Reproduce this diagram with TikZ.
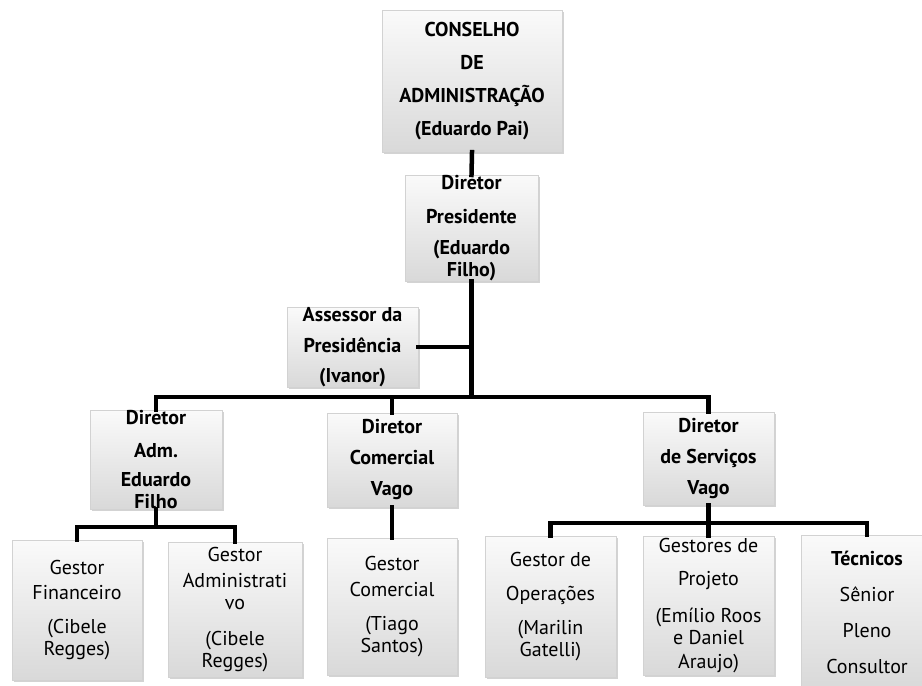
\documentclass[tikz,border=0pt]{standalone}
\usepackage{fontspec}
\setmainfont{PT Sans}
\usetikzlibrary{shadows}
\begin{document}
\begin{tikzpicture}[x=1pt, y=-1pt,
    box/.style={rectangle, draw=gray!35, top color=gray!4, bottom color=gray!30, align=center, inner sep=0pt,
        drop shadow={shadow xshift=2pt, shadow yshift=-2pt, opacity=0.35},
        font=\fontsize{20}{22}\selectfont},
    head/.style={box, font=\fontsize{20}{22}\selectfont\bfseries},
    link/.style={line width=4.5pt, black, line cap=rect}]
        \useasboundingbox (0,0) rectangle (922,686);
        \node[head, minimum width=180, minimum height=142] (cons) at (472,81) {CONSELHO\\[11pt]DE\\[11pt]ADMINISTRAÇÃO\\[11pt](Eduardo Pai)};
        \node[head, minimum width=133, minimum height=100] (pres) at (471.5,228) {Diretor\\[12pt]Presidente\\[9pt](Eduardo\\Filho)};
        \node[head, minimum width=131, minimum height=76] (ass) at (352.5,347) {Assessor da\\[9pt]Presidência\\[8pt](Ivanor)};
        \node[head, minimum width=132, minimum height=95] (adm) at (156,459.5) {Diretor\\[11pt]Adm.\\[7pt]Eduardo\\Filho};
        \node[head, minimum width=130, minimum height=94] (com) at (392,460) {Diretor\\[9pt]Comercial\\[9pt]Vago};
        \node[head, minimum width=131, minimum height=93] (serv) at (708.5,458.5) {Diretor\\[9pt]de Serviços\\[9pt]Vago};
        \node[box, minimum width=130, minimum height=140] (gfin) at (77,610) {Gestor\\[3pt]Financeiro\\[12pt](Cibele\\Regges)};
        \node[box, minimum width=134, minimum height=135] (gadm) at (235,609.5) {Gestor\\[4pt]Administrati\\vo\\[14pt](Cibele\\Regges)};
        \node[box, minimum width=130, minimum height=137] (gcom) at (392,606.5) {Gestor\\[4pt]Comercial\\[12pt](Tiago\\Santos)};
        \node[box, minimum width=131, minimum height=141] (gop) at (550.5,606.5) {Gestor de\\[12pt]Operações\\[12pt](Marilin\\Gatelli)};
        \node[box, minimum width=131, minimum height=139] (gproj) at (708.5,605.5) {Gestores de\\[11pt]Projeto\\[15pt](Emílio Roos\\e Daniel\\[2pt]Araujo)};
        \node[box, minimum width=132, minimum height=154] (tec) at (867,612) {\textbf{Técnicos}\\[14pt]Sênior\\[14pt]Pleno\\[14pt]Consultor};
        \coordinate (bus) at (0,397);
        \coordinate (busA) at (0,527);
        \coordinate (busS) at (0,523);
        \draw[link] (cons.south) -- (pres.north);
        \draw[link] (pres.south) -- (pres.south |- bus);
        \draw[link] (ass.east) -- (ass.east -| pres.south);
        \draw[link] (adm.north) |- (bus -| serv.north) -- (serv.north);
        \draw[link] (com.north) -- (com.north |- bus);
        \draw[link] (adm.south) -- (adm.south |- busA);
        \draw[link] (gfin.north) |- (busA -| gadm.north) -- (gadm.north);
        \draw[link] (com.south) -- (gcom.north);
        \draw[link] (serv.south) -- (gproj.north);
        \draw[link] (gop.north) |- (busS -| tec.north) -- (tec.north);
    \end{tikzpicture}
\end{document}
